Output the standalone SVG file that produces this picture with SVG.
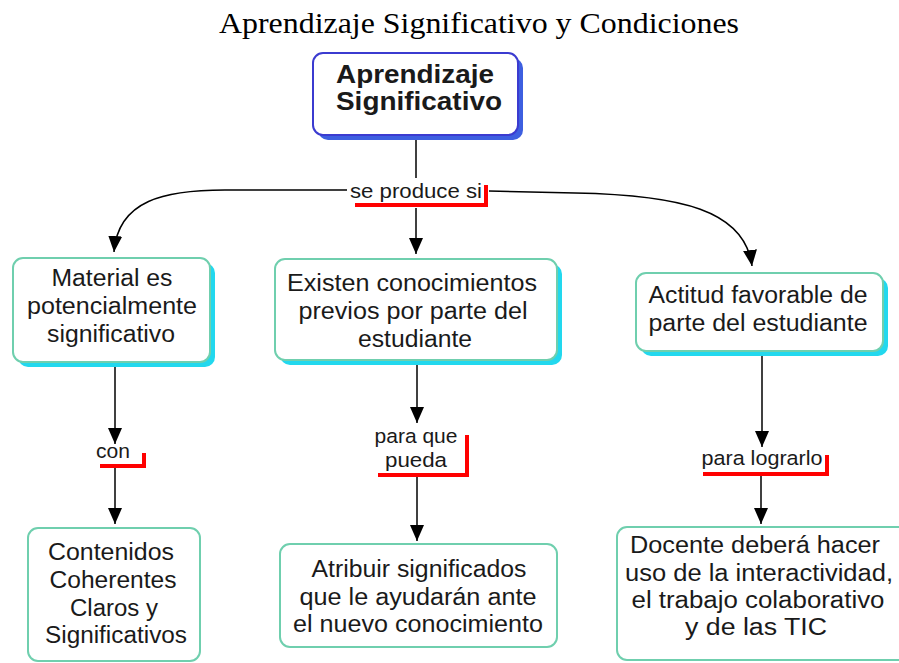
<svg xmlns="http://www.w3.org/2000/svg" width="899" height="663" viewBox="0 0 899 663">
<style>
.title{font-family:"Liberation Serif","Times New Roman",serif;font-size:29px;fill:#000}
.t{font-family:"Liberation Sans",Arial,sans-serif;font-size:23.5px;fill:#1a1a1a;text-anchor:middle}
.tb{font-family:"Liberation Sans",Arial,sans-serif;font-size:26.5px;font-weight:bold;fill:#1a1a1a;text-anchor:middle}
.lbl{font-family:"Liberation Sans",Arial,sans-serif;font-size:20.5px;fill:#1a1a1a;text-anchor:middle}
.box{fill:#fff;stroke:#6fcfae;stroke-width:2}
.shadow{fill:#22d8ee}
.topbox{fill:#fff;stroke:#3b3bd0;stroke-width:2}
.topshadow{fill:#3d5fe0}
.ln{fill:none;stroke:#000;stroke-width:1.5}
.red{fill:none;stroke:#ff0000;stroke-width:4}
</style>
<defs>
<marker id="arr" viewBox="0 0 16 14" refX="16" refY="7" markerWidth="16" markerHeight="14" markerUnits="userSpaceOnUse" orient="auto">
<path d="M0,0 L16,7 L0,14 z" fill="#000"/>
</marker>
</defs>
<rect width="899" height="663" fill="#fff"/>
<text class="title" x="479" y="33" text-anchor="middle" textLength="520" lengthAdjust="spacingAndGlyphs">Aprendizaje Significativo y Condiciones</text>

<g id="connectors">
<path class="ln" d="M416,135 L416,178"/>
<path class="ln" d="M416,208 L416,254" marker-end="url(#arr)"/>
<path class="ln" d="M347,190 L225,190 C165,190 118,200 114,252" marker-end="url(#arr)"/>
<path class="ln" d="M489,191 L575,193 C680,195 745,210 752,266" marker-end="url(#arr)"/>
<path class="ln" d="M115,367 L115,444" marker-end="url(#arr)"/>
<path class="ln" d="M115,468 L115,524" marker-end="url(#arr)"/>
<path class="ln" d="M417,365 L417,423" marker-end="url(#arr)"/>
<path class="ln" d="M417,477 L417,541" marker-end="url(#arr)"/>
<path class="ln" d="M762,356 L762,447" marker-end="url(#arr)"/>
<path class="ln" d="M761,476 L761,524" marker-end="url(#arr)"/>
</g>

<g id="lbl-se-produce-si">
<rect x="348" y="178" width="136" height="24" fill="#fff"/>
<text class="lbl" x="416" y="198" textLength="132" lengthAdjust="spacingAndGlyphs">se produce si</text>
<path class="red" d="M355,205 L486,205 L486,185"/>
</g>

<g id="lbl-con">
<text class="lbl" x="113" y="458" textLength="34" lengthAdjust="spacingAndGlyphs">con</text>
<path class="red" d="M100,466 L144,466 L144,453"/>
</g>

<g id="lbl-para-que-pueda">
<text class="lbl" x="416" y="443" textLength="83" lengthAdjust="spacingAndGlyphs">para que</text>
<text class="lbl" x="416" y="467" textLength="62" lengthAdjust="spacingAndGlyphs">pueda</text>
<path class="red" d="M378,475 L467,475 L467,435"/>
</g>

<g id="lbl-para-lograrlo">
<text class="lbl" x="762" y="465" textLength="121" lengthAdjust="spacingAndGlyphs">para lograrlo</text>
<path class="red" d="M703,474 L827,474 L827,455"/>
</g>

<g id="node-aprendizaje">
<rect class="topshadow" x="318" y="58" width="205" height="82" rx="10"/>
<rect class="topbox" x="313" y="53" width="205" height="82" rx="10"/>
<text class="tb" x="415" y="83" textLength="158" lengthAdjust="spacingAndGlyphs">Aprendizaje</text>
<text class="tb" x="419" y="110" textLength="166" lengthAdjust="spacingAndGlyphs">Significativo</text>
</g>

<g id="node-material">
<rect class="shadow" x="18" y="263" width="197" height="104" rx="10"/>
<rect class="box" x="13" y="258" width="197" height="104" rx="10"/>
<text class="t" x="112" y="286" textLength="121" lengthAdjust="spacingAndGlyphs">Material es</text>
<text class="t" x="112" y="314" textLength="170" lengthAdjust="spacingAndGlyphs">potencialmente</text>
<text class="t" x="111" y="342" textLength="128" lengthAdjust="spacingAndGlyphs">significativo</text>
</g>

<g id="node-existen">
<rect class="shadow" x="280" y="264" width="282" height="101" rx="10"/>
<rect class="box" x="275" y="259" width="282" height="101" rx="10"/>
<text class="t" x="412" y="291" textLength="250" lengthAdjust="spacingAndGlyphs">Existen conocimientos</text>
<text class="t" x="413" y="319" textLength="229" lengthAdjust="spacingAndGlyphs">previos por parte del</text>
<text class="t" x="415" y="347" textLength="114" lengthAdjust="spacingAndGlyphs">estudiante</text>
</g>

<g id="node-actitud">
<rect class="shadow" x="641" y="278" width="247" height="78" rx="10"/>
<rect class="box" x="636" y="273" width="247" height="78" rx="10"/>
<text class="t" x="758" y="303" textLength="219" lengthAdjust="spacingAndGlyphs">Actitud favorable de</text>
<text class="t" x="758" y="331" textLength="219" lengthAdjust="spacingAndGlyphs">parte del estudiante</text>
</g>

<g id="node-contenidos">
<rect class="box" x="28" y="528" width="172" height="133" rx="10"/>
<text class="t" x="111" y="560" textLength="126" lengthAdjust="spacingAndGlyphs">Contenidos</text>
<text class="t" x="113" y="588" textLength="127" lengthAdjust="spacingAndGlyphs">Coherentes</text>
<text class="t" x="114" y="616" textLength="88" lengthAdjust="spacingAndGlyphs">Claros y</text>
<text class="t" x="116" y="643" textLength="142" lengthAdjust="spacingAndGlyphs">Significativos</text>
</g>

<g id="node-atribuir">
<rect class="box" x="280" y="544" width="277" height="103" rx="10"/>
<text class="t" x="419" y="577" textLength="215" lengthAdjust="spacingAndGlyphs">Atribuir significados</text>
<text class="t" x="418" y="605" textLength="237" lengthAdjust="spacingAndGlyphs">que le ayudarán ante</text>
<text class="t" x="418" y="632" textLength="250" lengthAdjust="spacingAndGlyphs">el nuevo conocimiento</text>
</g>

<g id="node-docente">
<rect class="box" x="617" y="527" width="300" height="133" rx="10"/>
<text class="t" x="755" y="553" textLength="250" lengthAdjust="spacingAndGlyphs">Docente deberá hacer</text>
<text class="t" x="759" y="581" textLength="268" lengthAdjust="spacingAndGlyphs">uso de la interactividad,</text>
<text class="t" x="758" y="608" textLength="253" lengthAdjust="spacingAndGlyphs">el trabajo colaborativo</text>
<text class="t" x="756" y="635" textLength="142" lengthAdjust="spacingAndGlyphs">y de las TIC</text>
</g>
</svg>
